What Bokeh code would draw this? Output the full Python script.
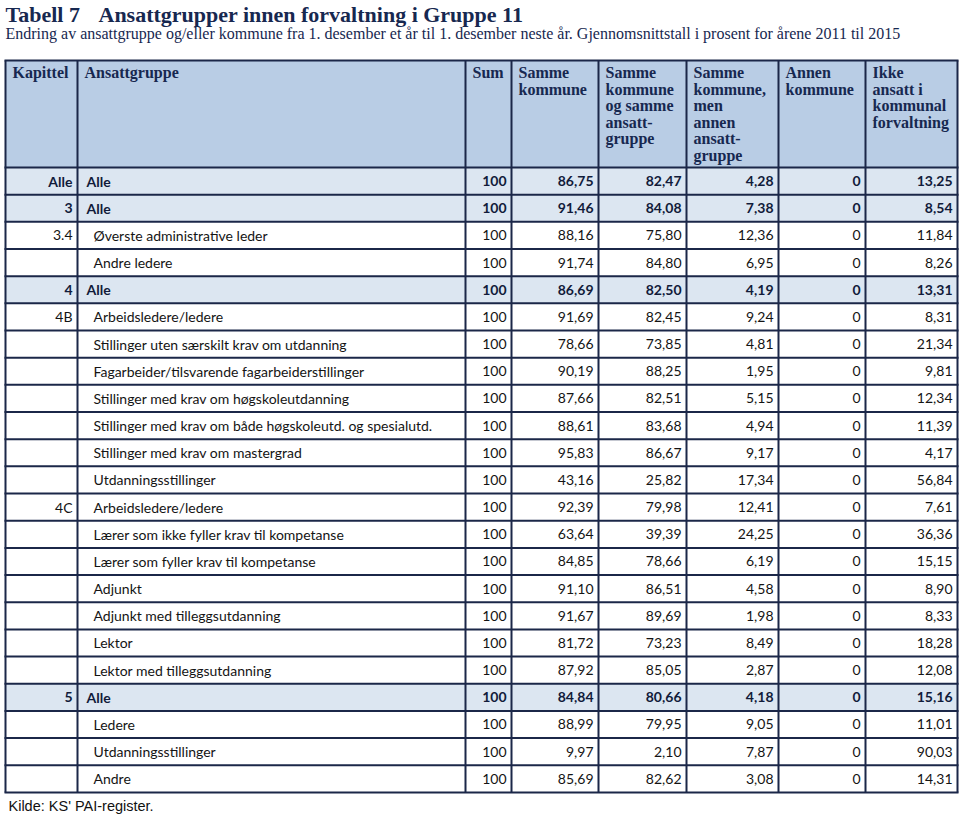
from bokeh.plotting import figure
from bokeh.models import Range1d, ColumnDataSource
from bokeh.core.properties import value
from bokeh.embed import file_html
from bokeh.resources import INLINE

# ---------------- data ----------------
title_num = "Tabell 7"
title_text = "Ansattgrupper innen forvaltning i Gruppe 11"
subtitle = ("Endring av ansattgruppe og/eller kommune fra 1. desember et år til 1. desember neste år. "
            "Gjennomsnittstall i prosent for årene 2011 til 2015")
source_note = "Kilde: KS' PAI-register."

headers = [
    ["Kapittel"],
    ["Ansattgruppe"],
    ["Sum"],
    ["Samme", "kommune"],
    ["Samme", "kommune", "og samme", "ansatt-", "gruppe"],
    ["Samme", "kommune,", "men", "annen", "ansatt-", "gruppe"],
    ["Annen", "kommune"],
    ["Ikke", "ansatt i", "kommunal", "forvaltning"],
]

kapittel = ["Alle", "3", "3.4", "", "4", "4B", "", "", "", "", "", "", "4C",
            "", "", "", "", "", "", "5", "", "", ""]
ansattgruppe = [
    "Alle",
    "Alle",
    "Øverste administrative leder",
    "Andre ledere",
    "Alle",
    "Arbeidsledere/ledere",
    "Stillinger uten særskilt krav om utdanning",
    "Fagarbeider/tilsvarende fagarbeiderstillinger",
    "Stillinger med krav om høgskoleutdanning",
    "Stillinger med krav om både høgskoleutd. og spesialutd.",
    "Stillinger med krav om mastergrad",
    "Utdanningsstillinger",
    "Arbeidsledere/ledere",
    "Lærer som ikke fyller krav til kompetanse",
    "Lærer som fyller krav til kompetanse",
    "Adjunkt",
    "Adjunkt med tilleggsutdanning",
    "Lektor",
    "Lektor med tilleggsutdanning",
    "Alle",
    "Ledere",
    "Utdanningsstillinger",
    "Andre",
]
is_total = [True, True, False, False, True, False, False, False, False, False, False, False,
            False, False, False, False, False, False, False, True, False, False, False]

sum_col = [100, 100, 100, 100, 100, 100, 100, 100, 100, 100, 100, 100,
           100, 100, 100, 100, 100, 100, 100, 100, 100, 100, 100]
samme_kommune = [86.75, 91.46, 88.16, 91.74, 86.69, 91.69, 78.66, 90.19, 87.66, 88.61, 95.83, 43.16,
                 92.39, 63.64, 84.85, 91.10, 91.67, 81.72, 87.92, 84.84, 88.99, 9.97, 85.69]
samme_kommune_samme_gruppe = [82.47, 84.08, 75.80, 84.80, 82.50, 82.45, 73.85, 88.25, 82.51, 83.68, 86.67, 25.82,
                              79.98, 39.39, 78.66, 86.51, 89.69, 73.23, 85.05, 80.66, 79.95, 2.10, 82.62]
samme_kommune_annen_gruppe = [4.28, 7.38, 12.36, 6.95, 4.19, 9.24, 4.81, 1.95, 5.15, 4.94, 9.17, 17.34,
                              12.41, 24.25, 6.19, 4.58, 1.98, 8.49, 2.87, 4.18, 9.05, 7.87, 3.08]
annen_kommune = [0, 0, 0, 0, 0, 0, 0, 0, 0, 0, 0, 0,
                 0, 0, 0, 0, 0, 0, 0, 0, 0, 0, 0]
ikke_ansatt = [13.25, 8.54, 11.84, 8.26, 13.31, 8.31, 21.34, 9.81, 12.34, 11.39, 4.17, 56.84,
               7.61, 36.36, 15.15, 8.90, 8.33, 18.28, 12.08, 15.16, 11.01, 90.03, 14.31]

numeric_cols = [sum_col, samme_kommune, samme_kommune_samme_gruppe,
                samme_kommune_annen_gruppe, annen_kommune, ikke_ansatt]

# ---------------- layout / style ----------------
W, H = 960, 815
col_edges = [5, 77, 465, 511, 598, 686, 778, 865, 957]
TOP, HEAD_BOT = 60, 167
ROW_H = 27.17
n = len(ansattgruppe)

NAVY = "#172850"
BORDER = "#1b2748"
HEAD_BG = "#b9cde5"
TOTAL_BG = "#dce6f1"
SERIF = "Liberation Serif"
SANS = "Lato"


def fmt(v):
    if isinstance(v, int):
        return str(v)
    return f"{v:.2f}".replace(".", ",")


p = figure(width=W, height=H, output_backend="svg", toolbar_location=None,
           x_range=Range1d(0, W), y_range=Range1d(H, 0), min_border=0)
p.axis.visible = False
p.grid.visible = False
p.outline_line_color = None
p.background_fill_color = "white"
p.border_fill_color = "white"

# backgrounds
p.quad(left=[col_edges[0]], right=[col_edges[-1]], top=[TOP], bottom=[HEAD_BOT],
       fill_color=HEAD_BG, line_color=None)
row_top = [HEAD_BOT + ROW_H * i for i in range(n)]
row_bot = [HEAD_BOT + ROW_H * (i + 1) for i in range(n)]
row_mid = [HEAD_BOT + ROW_H * (i + 0.5) for i in range(n)]
fills = [TOTAL_BG if t else "white" for t in is_total]
p.quad(left=[col_edges[0]] * n, right=[col_edges[-1]] * n, top=row_top, bottom=row_bot,
       fill_color=fills, line_color=None)

# grid lines
table_bottom = row_bot[-1]
h_ys = [TOP, HEAD_BOT] + row_bot
p.segment(x0=[col_edges[0] - 1] * len(h_ys), x1=[col_edges[-1] + 1] * len(h_ys), y0=h_ys, y1=h_ys,
          line_color=BORDER, line_width=2)
p.segment(x0=col_edges, x1=col_edges, y0=[TOP] * len(col_edges), y1=[table_bottom] * len(col_edges),
          line_color=BORDER, line_width=2)

# title
p.text(x=[5], y=[14], text=[title_num], text_font=value(SERIF), text_font_style="bold",
       text_font_size="22px", text_color=NAVY, text_baseline="middle", text_align="left")
p.text(x=[98], y=[14], text=[title_text], text_font=value(SERIF), text_font_style="bold",
       text_font_size="22px", text_color=NAVY, text_baseline="middle", text_align="left")
p.text(x=[5], y=[33], text=[subtitle], text_font=value(SERIF),
       text_font_size="16px", text_color=NAVY, text_baseline="middle", text_align="left")

# header texts
hx, hy, ht = [], [], []
for j, lines in enumerate(headers):
    for k, line in enumerate(lines):
        hx.append(col_edges[j] + 7)
        hy.append(72 + 16.6 * k)
        ht.append(line)
p.text(x=hx, y=hy, text=ht, text_font=value(SERIF), text_font_style="bold",
       text_font_size="16px", text_color=NAVY, text_baseline="middle", text_align="left")

# body texts
for bold in (True, False):
    idx = [i for i in range(n) if is_total[i] == bold]
    style = "bold" if bold else "normal"
    color = "#111b3a" if bold else "#141414"
    src_k = ColumnDataSource(dict(x=[col_edges[1] - 5] * len(idx), y=[row_mid[i] for i in idx],
                                  t=[kapittel[i] for i in idx]))
    p.text(x="x", y="y", text="t", source=src_k, text_font=value(SANS), text_font_style=style,
           text_font_size="14px", text_color=color, text_baseline="middle", text_align="right")
    gx = col_edges[1] + (9 if bold else 16)
    src_g = ColumnDataSource(dict(x=[gx] * len(idx), y=[row_mid[i] for i in idx],
                                  t=[ansattgruppe[i] for i in idx]))
    p.text(x="x", y="y", text="t", source=src_g, text_font=value(SANS), text_font_style=style,
           text_font_size="14px", text_color=color, text_baseline="middle", text_align="left")
    for c, col in enumerate(numeric_cols):
        xs = col_edges[c + 3] - 5
        src_v = ColumnDataSource(dict(x=[xs] * len(idx), y=[row_mid[i] for i in idx],
                                      t=[fmt(col[i]) for i in idx]))
        p.text(x="x", y="y", text="t", source=src_v, text_font=value(SANS), text_font_style=style,
               text_font_size="14px", text_color=color, text_baseline="middle", text_align="right")

# source
p.text(x=[8], y=[805], text=[source_note], text_font=value("Liberation Sans"),
       text_font_size="14.5px", text_color="#111111", text_baseline="middle", text_align="left")

open("out.html", "w").write(file_html(p, INLINE))
